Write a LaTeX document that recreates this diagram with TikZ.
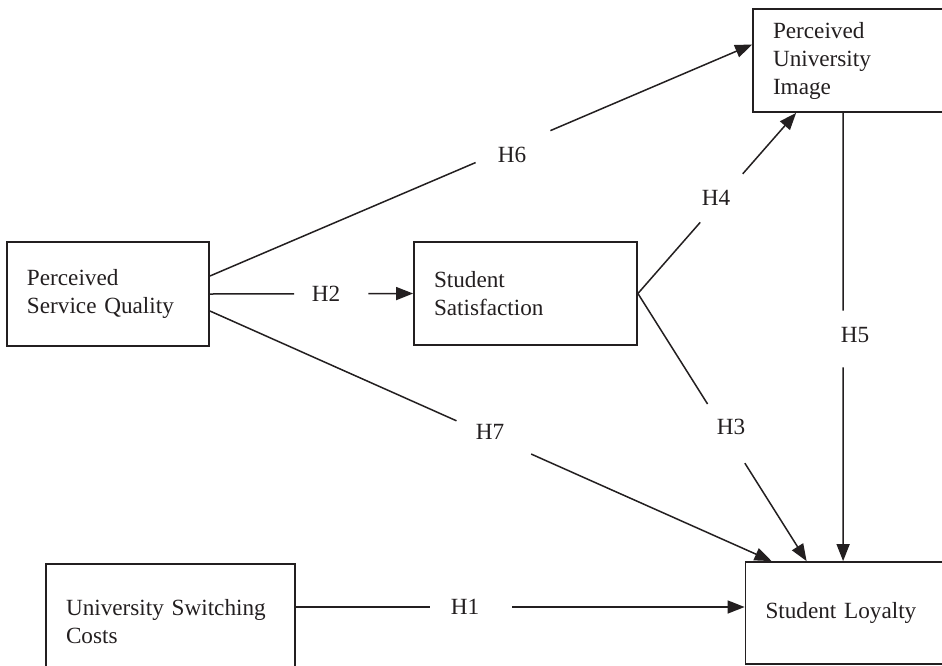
\documentclass[tikz,border=0pt]{standalone}
\usepackage{fontspec}
\setmainfont{Liberation Serif}
\usetikzlibrary{arrows.meta,calc}
\definecolor{ink}{HTML}{231F20}
\begin{document}
\begin{tikzpicture}[x=1pt,y=-1pt,
  box/.style={draw=ink,line width=1.8pt,rectangle,inner xsep=20pt,inner ysep=2pt,
    align=left,text=ink,font=\fontsize{23.2}{28}\selectfont},
  conn/.style={draw=ink,line width=1.5pt},
  arr/.style={conn,-{Triangle[length=17pt,width=13pt]}},
  hlab/.style={text=ink,font=\fontsize{23.2}{28}\selectfont,inner sep=0pt}]
\useasboundingbox (0,0) rectangle (942,665);
\clip (0,0) rectangle (942,665);
\fill[white] (0,0) rectangle (942,665);
% boxes
\node[box,text width=162pt,minimum height=104pt] (psq) at (108,294) {Perceived\\Service Quality};
\node[box,text width=183pt,minimum height=103pt] (ss) at (525.5,293.5) {Student\\Satisfaction};
\node[box,text width=160pt,minimum height=103pt] (pui) at (853,60.5) {Perceived\\University\\Image};
\node[box,text width=209pt,minimum height=116pt] (usc) at (170.5,622) {University Switching\\Costs};
\node[box,text width=163pt,minimum height=102pt] (sl) at (847,613) {Student Loyalty};
% connector end points
\coordinate (a6) at ($(psq.east)+(0,-18)$);
\coordinate (b6) at ($(pui.west)+(0,-16)$);
\coordinate (a7) at ($(psq.east)+(0,17)$);
\coordinate (b7) at ($(sl.north west)+(27,0)$);
\coordinate (b4) at ($(pui.south west)+(44,0)$);
\coordinate (b3) at ($(sl.north west)+(62,0)$);
\coordinate (a5) at ($(pui.south west)+(91,0)$);
\coordinate (b5) at (a5 |- sl.north);
\coordinate (a1) at ($(usc.east)+(0,-15)$);
\coordinate (b1) at (a1 -| sl.west);
% H6
\draw[conn] (a6) -- ($(a6)!0.49!(b6)$);
\draw[arr] ($(a6)!0.628!(b6)$) -- (b6);
\node[hlab] (h6) at (512,155) {H6};
% H2
\draw[conn] (psq.east) -- ($(psq.east)!0.415!(ss.west)$);
\draw[arr] ($(psq.east)!0.78!(ss.west)$) -- (ss.west);
\node[hlab] (h2) at (326,294) {H2};
% H7
\draw[conn] (a7) -- ($(a7)!0.439!(b7)$);
\draw[arr] ($(a7)!0.572!(b7)$) -- (b7);
\node[hlab] (h7) at (490,432) {H7};
% H4
\draw[conn] (ss.east) -- ($(ss.east)!0.394!(b4)$);
\draw[arr] ($(ss.east)!0.6625!(b4)$) -- (b4);
\node[hlab] (h4) at (716,198) {H4};
% H3
\draw[conn] (ss.east) -- ($(ss.east)!0.413!(b3)$);
\draw[arr] ($(ss.east)!0.634!(b3)$) -- (b3);
\node[hlab] (h3) at (731,427) {H3};
% H5
\draw[conn] (a5) -- ($(a5)!0.441!(b5)$);
\draw[arr] ($(a5)!0.568!(b5)$) -- (b5);
\node[hlab] (h5) at (855,335) {H5};
% H1
\draw[conn] (a1) -- ($(a1)!0.299!(b1)$);
\draw[arr] ($(a1)!0.482!(b1)$) -- (b1);
\node[hlab] (h1) at (465,607) {H1};
\end{tikzpicture}
\end{document}
